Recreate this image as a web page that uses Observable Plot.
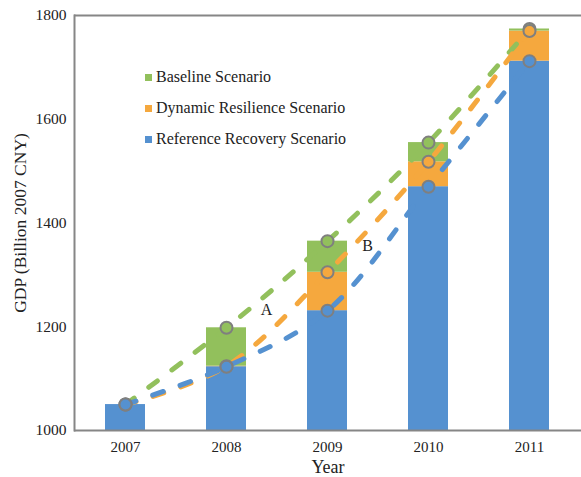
<!DOCTYPE html>
<html><head><meta charset="utf-8">
<script src="https://cdn.jsdelivr.net/npm/d3@7"></script>
<script src="https://cdn.jsdelivr.net/npm/@observablehq/plot@0.6"></script>
<style>
body{margin:0;background:#fff;}
#wrap{position:relative;width:581px;height:477px;font-family:"Liberation Serif","DejaVu Serif",serif;}
.leg{position:absolute;left:145px;font-size:16px;line-height:18px;color:#222;display:flex;align-items:center;white-space:nowrap;font-family:"Liberation Serif","DejaVu Serif",serif;}
.leg span.sw{display:inline-block;width:7px;height:7px;margin-right:4px;}
</style></head>
<body><div id="wrap"></div>
<script>
const years = ["2007","2008","2009","2010","2011"];
const baseline = [1050, 1198, 1365, 1555, 1774];
const dynamic = [1050, 1124, 1305, 1518, 1770];
const reference = [1050, 1123, 1231, 1470, 1712];
const yTicks = [1000, 1200, 1400, 1600, 1800];
const seriesNames = ["Baseline Scenario","Dynamic Resilience Scenario","Reference Recovery Scenario"];
const colors = ["#92c05c","#f5a83e","#5591d0"];
const notes = [{label:"A", year:"2008", value:1233},{label:"B", year:"2009", value:1355}];

const segs = [];
years.forEach((y,i)=>{
  segs.push({year:y, s:seriesNames[2], y1:1000, y2:reference[i]});
  segs.push({year:y, s:seriesNames[1], y1:reference[i], y2:dynamic[i]});
  segs.push({year:y, s:seriesNames[0], y1:dynamic[i], y2:baseline[i]});
});
const pts = [];
[[baseline,0],[dynamic,1],[reference,2]].forEach(([arr,k])=>{
  years.forEach((y,i)=>pts.push({year:y, s:seriesNames[k], v:arr[i]}));
});
const color = {domain: seriesNames, range: colors};
const serif = "'Liberation Serif','DejaVu Serif',serif";

const chart = Plot.plot({
  width:581, height:477,
  marginLeft:74, marginRight:0, marginTop:15, marginBottom:47,
  style:{fontFamily:serif, fontSize:"15px", color:"#222", background:"#fff"},
  x:{domain:years, paddingInner:0.6, paddingOuter:0.3, align:0.5},
  y:{domain:[1000,1800]},
  color,
  marks:[
    Plot.rectY(segs, {x:"year", y1:"y1", y2:"y2", fill:"s"}),
    Plot.line(pts, {x:"year", y:"v", z:"s", stroke:"s", strokeWidth:5, strokeDasharray:"11,18", strokeLinecap:"round", curve:"catmull-rom"}),
    Plot.dot(pts, {x:"year", y:"v", fill:"s", r:6, stroke:"#7f7f7f", strokeWidth:2}),
    Plot.text(notes, {x:"year", y:"value", text:"label", dx:40, fontSize:16, fontFamily:serif}),
    Plot.ruleY([1000,1800], {stroke:"#868686", strokeWidth:2}),
    Plot.frame({anchor:"left", stroke:"#868686", strokeWidth:2}),
    Plot.axisY({ticks:yTicks, tickFormat:"d", tickSize:0, tickPadding:8, label:null, fontSize:15.5, fontFamily:serif}),
    Plot.axisY({ticks:[], label:"GDP (Billion 2007 CNY)", labelAnchor:"center", labelArrow:"none", labelOffset:61, fontSize:17.5, fontFamily:serif}),
    Plot.axisX({tickSize:0, tickPadding:11, label:null, fontSize:15, fontFamily:serif}),
    Plot.axisX({ticks:[], label:"Year", labelAnchor:"center", labelArrow:"none", labelOffset:42, fontSize:18, fontFamily:serif})
  ]
});
const wrap = document.getElementById("wrap");
wrap.appendChild(chart);
const lt = [77,108,139];
seriesNames.forEach((n,i)=>{
  const d = document.createElement("div");
  d.className="leg"; d.style.top=(lt[i]-9)+"px";
  d.innerHTML = `<span class="sw" style="background:${colors[i]}"></span>${n}`;
  wrap.appendChild(d);
});
</script></body></html>
